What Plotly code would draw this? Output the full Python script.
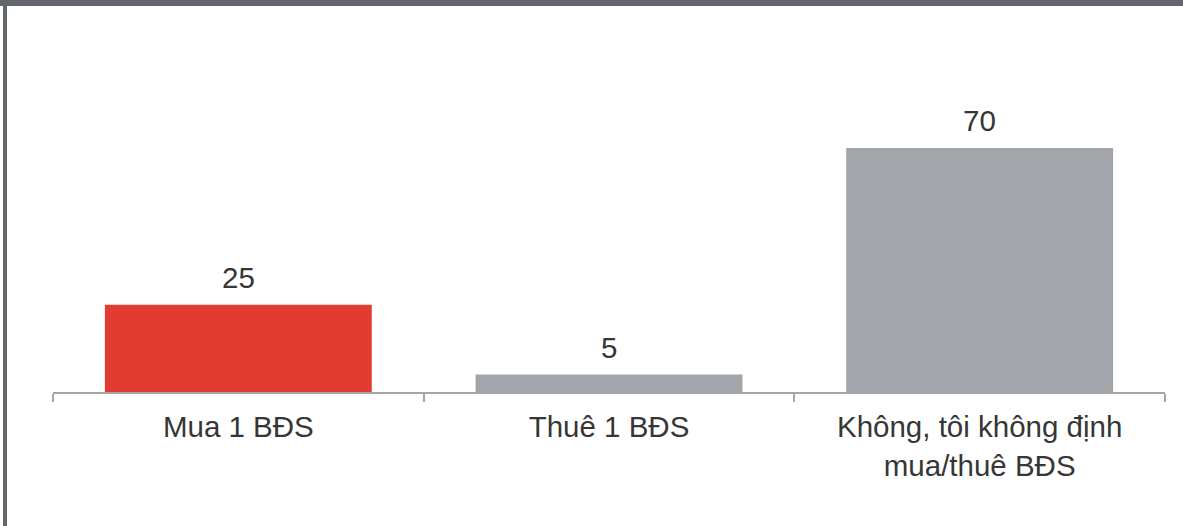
import plotly.graph_objects as go

categories = ["Mua 1 BĐS", "Thuê 1 BĐS", "Không, tôi không định<br>mua/thuê BĐS"]
values = [25, 5, 70]
bar_colors = ["#e03c31", "#a2a5a9", "#a2a5a9"]

W, H = 1183, 526
L, R, T, B = 53, 18, 113, 134
pw, ph = W - L - R, H - T - B

def px(x):
    return (x - L) / pw

def py(y):
    return (H - B - y) / ph

FONT = "Liberation Sans, Arial"
TXT = "#363636"

fig = go.Figure()
fig.add_trace(go.Bar(
    x=categories, y=values, marker=dict(color=bar_colors, line=dict(width=0)),
    hoverinfo="skip",
))

for c, v in zip(categories, values):
    fig.add_annotation(x=c, y=v, text=str(v), showarrow=False, yanchor="bottom",
                       yshift=9, font=dict(family=FONT, size=29.5, color=TXT))

shapes = [
    dict(type="rect", xref="paper", yref="paper", x0=px(0), x1=px(W), y0=py(6), y1=py(0),
         fillcolor="#63666a", line=dict(width=0), layer="above"),
    dict(type="rect", xref="paper", yref="paper", x0=px(3), x1=px(7), y0=py(H), y1=py(0),
         fillcolor="#63666a", line=dict(width=0), layer="above"),
]

fig.update_layout(
    width=W, height=H,
    margin=dict(l=L, r=R, t=T, b=B),
    plot_bgcolor="white", paper_bgcolor="white",
    bargap=0.28, showlegend=False,
    shapes=shapes,
    font=dict(family=FONT, color=TXT),
    xaxis=dict(showline=True, linecolor="#a6a6a6", linewidth=1.5, ticks="outside",
               tickson="boundaries", ticklen=8, tickcolor="#a6a6a6", tickwidth=1.5,
               ticklabelstandoff=8,
               tickfont=dict(family=FONT, size=29.5, color=TXT), showgrid=False, fixedrange=True),
    yaxis=dict(visible=False, range=[0, 80], showgrid=False, zeroline=False, fixedrange=True),
)

fig.write_html("out.html")
